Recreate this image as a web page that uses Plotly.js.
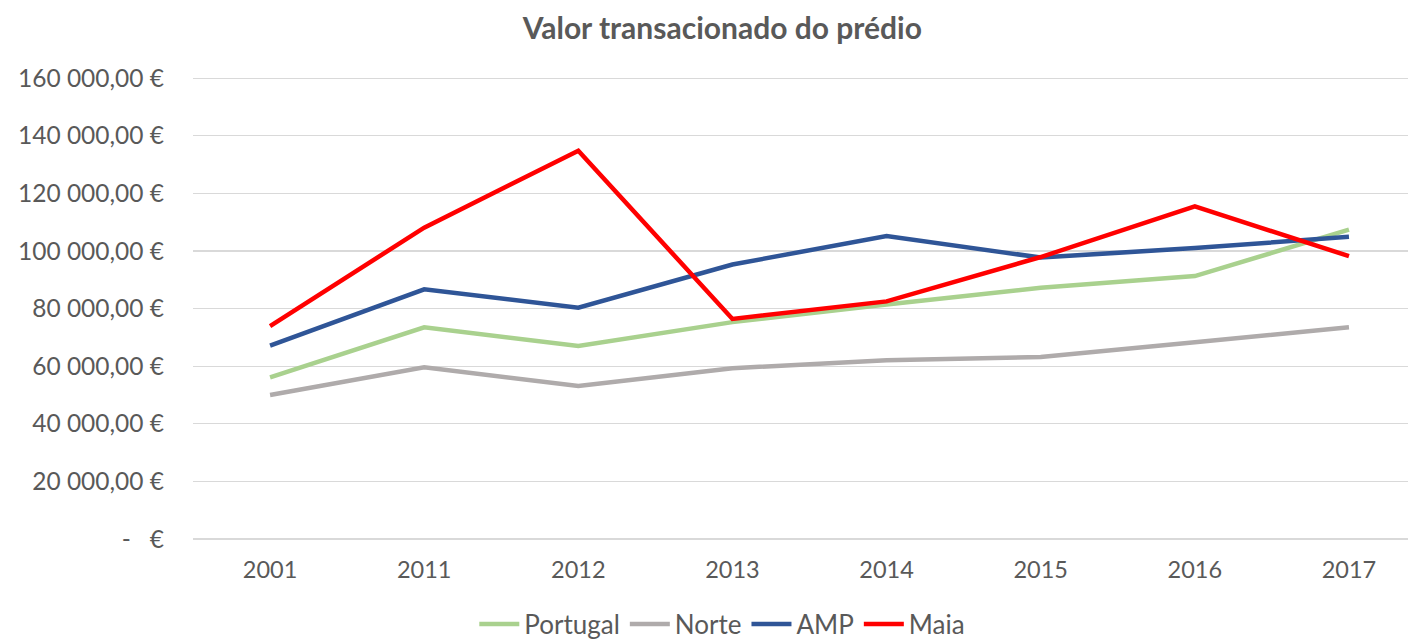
<!DOCTYPE html>
<html>
<head>
<meta charset="utf-8">
<script src="https://cdn.plot.ly/plotly-3.0.1.min.js"></script>
<style>html,body{margin:0;padding:0;background:#fff;}#chart{width:1408px;height:643px;}</style>
</head>
<body>
<div id="chart"></div>
<script>
const years = ["2001", "2011", "2012", "2013", "2014", "2015", "2016", "2017"];
const portugal = [56100, 73500, 67000, 75300, 81400, 87200, 91300, 107400];
const norte = [50000, 59600, 53100, 59300, 62100, 63200, 68300, 73500];
const amp = [67100, 86700, 80300, 95300, 105200, 97700, 101000, 104900];
const maia = [73900, 108100, 134800, 76400, 82500, 97900, 115500, 98200];
const tickVals = [0, 20000, 40000, 60000, 80000, 100000, 120000, 140000, 160000];
const tickText = ["-   €", "20 000,00 €", "40 000,00 €", "60 000,00 €", "80 000,00 €", "100 000,00 €", "120 000,00 €", "140 000,00 €", "160 000,00 €"];

const font = "Lato, 'Noto Sans', sans-serif";
const mk = (name, y, color) => ({
  type: "scatter", mode: "lines", name: name, x: years, y: y,
  line: {color: color, width: 4.5}
});
const data = [
  mk("Portugal", portugal, "#a9d18e"),
  mk("Norte", norte, "#afabab"),
  mk("AMP", amp, "#2f5597"),
  mk("Maia", maia, "#ff0000")
];
const layout = {
  width: 1408, height: 643,
  margin: {l: 193, r: 0, t: 77, b: 104},
  paper_bgcolor: "#fff", plot_bgcolor: "#fff",
  font: {family: font, color: "#595959", size: 24},
  title: {text: "<b>Valor transacionado do prédio</b>", font: {family: font, size: 30, color: "#595959"},
          x: 0.513, xref: "container", xanchor: "center", y: 1 - 28/643, yref: "container", yanchor: "middle"},
  xaxis: {type: "category", range: [-0.5, 7.383], showgrid: false, zeroline: false, showline: false,
          ticks: "", tickfont: {size: 23.5, color: "#595959"}, ticklabelstandoff: 14},
  yaxis: {range: [0, 160400], tickvals: tickVals, ticktext: tickText, showgrid: true, gridcolor: "#d9d9d9", gridwidth: 1.3,
          zeroline: true, zerolinecolor: "#d9d9d9", zerolinewidth: 1.3, showline: false, ticks: "",
          tickfont: {size: 24.5, color: "#595959"}, ticklabelstandoff: 28},
  showlegend: true,
  legend: {orientation: "h", x: 0.513, xref: "container", xanchor: "center", y: 1 - 624/643, yref: "container", yanchor: "middle",
           font: {size: 26, color: "#595959"}, itemwidth: 40, traceorder: "normal", itemclick: false,
           tracegroupgap: 0}
};
Plotly.newPlot("chart", data, layout, {displayModeBar: false, staticPlot: true});
</script>
</body>
</html>
